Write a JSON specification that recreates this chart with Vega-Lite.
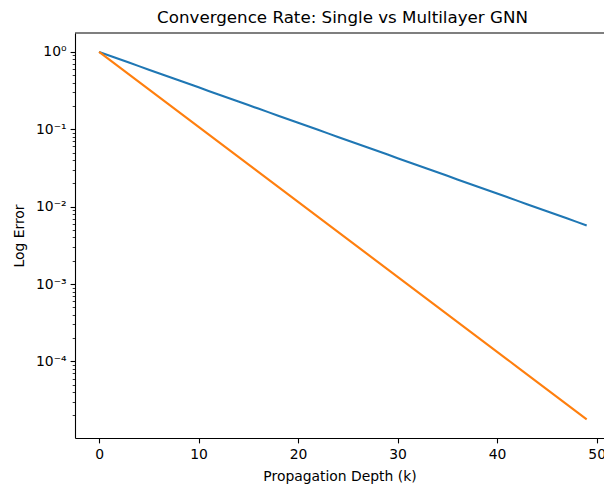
{
  "$schema": "https://vega.github.io/schema/vega-lite/v6.json",
  "width": 529,
  "height": 405,
  "autosize": {"type": "none"},
  "padding": {"left": 75, "top": 33, "right": 0, "bottom": 47},
  "background": "white",
  "config": {"view": {"stroke": null}, "font": "DejaVu Sans"},
  "title": {"text": "Convergence Rate: Single vs Multilayer GNN", "fontSize": 16.7, "fontWeight": "normal", "font": "DejaVu Sans", "color": "black", "offset": 6, "anchor": "middle", "dx": 3},
  "datasets": {
    "single": [
      {"k":0,"error":1},{"k":1,"error":0.9},{"k":2,"error":0.81},{"k":3,"error":0.729},{"k":4,"error":0.6561},{"k":5,"error":0.59049},{"k":6,"error":0.531441},{"k":7,"error":0.4782969},{"k":8,"error":0.43046721},{"k":9,"error":0.387420489},
      {"k":10,"error":0.3486784401},{"k":11,"error":0.3138105961},{"k":12,"error":0.2824295365},{"k":13,"error":0.2541865828},{"k":14,"error":0.2287679245},{"k":15,"error":0.2058911321},{"k":16,"error":0.1853020189},{"k":17,"error":0.166771817},{"k":18,"error":0.1500946353},{"k":19,"error":0.1350851718},
      {"k":20,"error":0.1215766546},{"k":21,"error":0.1094189891},{"k":22,"error":0.0984770902},{"k":23,"error":0.0886293812},{"k":24,"error":0.0797664431},{"k":25,"error":0.0717897988},{"k":26,"error":0.0646108189},{"k":27,"error":0.058149737},{"k":28,"error":0.0523347633},{"k":29,"error":0.047101287},
      {"k":30,"error":0.0423911583},{"k":31,"error":0.0381520424},{"k":32,"error":0.0343368382},{"k":33,"error":0.0309031544},{"k":34,"error":0.0278128389},{"k":35,"error":0.025031555},{"k":36,"error":0.0225283995},{"k":37,"error":0.0202755596},{"k":38,"error":0.0182480036},{"k":39,"error":0.0164232033},
      {"k":40,"error":0.0147808829},{"k":41,"error":0.0133027946},{"k":42,"error":0.0119725152},{"k":43,"error":0.0107752637},{"k":44,"error":0.0096977373},{"k":45,"error":0.0087279636},{"k":46,"error":0.0078551672},{"k":47,"error":0.0070696505},{"k":48,"error":0.0063626855},{"k":49,"error":0.0057264169}
    ],
    "multi": [
      {"k":0,"error":1},{"k":1,"error":0.8},{"k":2,"error":0.64},{"k":3,"error":0.512},{"k":4,"error":0.4096},{"k":5,"error":0.32768},{"k":6,"error":0.262144},{"k":7,"error":0.2097152},{"k":8,"error":0.16777216},{"k":9,"error":0.134217728},
      {"k":10,"error":0.1073741824},{"k":11,"error":0.0858993459},{"k":12,"error":0.0687194767},{"k":13,"error":0.0549755814},{"k":14,"error":0.0439804651},{"k":15,"error":0.0351843721},{"k":16,"error":0.0281474977},{"k":17,"error":0.0225179981},{"k":18,"error":0.0180143985},{"k":19,"error":0.0144115188},
      {"k":20,"error":0.011529215},{"k":21,"error":0.009223372},{"k":22,"error":0.0073786976},{"k":23,"error":0.0059029581},{"k":24,"error":0.0047223665},{"k":25,"error":0.0037778932},{"k":26,"error":0.0030223145},{"k":27,"error":0.0024178516},{"k":28,"error":0.0019342813},{"k":29,"error":0.001547425},
      {"k":30,"error":0.00123794},{"k":31,"error":0.000990352},{"k":32,"error":0.0007922816},{"k":33,"error":0.0006338253},{"k":34,"error":0.0005070602},{"k":35,"error":0.0004056482},{"k":36,"error":0.0003245186},{"k":37,"error":0.0002596148},{"k":38,"error":0.0002076919},{"k":39,"error":0.0001661535},
      {"k":40,"error":0.0001329228},{"k":41,"error":0.0001063382},{"k":42,"error":0.0000850706},{"k":43,"error":0.0000680565},{"k":44,"error":0.0000544452},{"k":45,"error":0.0000435561},{"k":46,"error":0.0000348449},{"k":47,"error":0.0000278759},{"k":48,"error":0.0000223007},{"k":49,"error":0.0000178406}
    ]
  },
  "layer": [
    {
      "data": {"name": "single"},
      "mark": {"type": "line", "color": "#1f77b4", "strokeWidth": 2.1, "clip": true},
      "encoding": {
        "x": {"field": "k", "type": "quantitative", "scale": {"domain": [-2.42, 50.74], "nice": false, "zero": false},
          "axis": {"values": [0,10,20,30,40,50], "title": "Propagation Depth (k)", "titleFontSize": 13.9, "titleFontWeight": "normal", "titleColor": "black", "labelFontSize": 13.9, "labelColor": "black", "tickSize": 4.9, "tickWidth": 1.1, "tickColor": "black", "domainColor": "black", "domainWidth": 1.1, "grid": false, "labelPadding": 5, "titlePadding": 8, "labelFlush": false}},
        "y": {"field": "error", "type": "quantitative", "scale": {"type": "log", "domain": [0.00001023, 1.758], "nice": false, "zero": false},
          "axis": {
            "values": [0.00002,0.00003,0.00004,0.00005,0.00006,0.00007,0.00008,0.00009,0.0001,0.0002,0.0003,0.0004,0.0005,0.0006,0.0007,0.0008,0.0009,0.001,0.002,0.003,0.004,0.005,0.006,0.007,0.008,0.009,0.01,0.02,0.03,0.04,0.05,0.06,0.07,0.08,0.09,0.1,0.2,0.3,0.4,0.5,0.6,0.7,0.8,0.9,1],
            "labelExpr": "abs(log(datum.value)/LN10 - round(log(datum.value)/LN10)) < 1e-6 ? (round(log(datum.value)/LN10) == 0 ? '10⁰' : '10⁻' + ['','¹','²','³','⁴','⁵'][-round(log(datum.value)/LN10)]) : ''",
            "tickSize": {"condition": {"test": "abs(log(datum.value)/LN10 - round(log(datum.value)/LN10)) < 1e-6", "value": 4.9}, "value": 2.8},
            "tickWidth": {"condition": {"test": "abs(log(datum.value)/LN10 - round(log(datum.value)/LN10)) < 1e-6", "value": 1.1}, "value": 0.8},
            "title": "Log Error", "titleFontSize": 13.9, "titleFontWeight": "normal", "titleColor": "black", "labelFontSize": 13.9, "labelColor": "black", "tickColor": "black", "domainColor": "black", "domainWidth": 1.1, "grid": false, "labelPadding": 4, "titlePadding": 9, "labelOverlap": false}}
      }
    },
    {
      "data": {"name": "multi"},
      "mark": {"type": "line", "color": "#ff7f0e", "strokeWidth": 2.1, "clip": true},
      "encoding": {
        "x": {"field": "k", "type": "quantitative"},
        "y": {"field": "error", "type": "quantitative"}
      }
    },
    {
      "data": {"values": [{}]},
      "mark": {"type": "rule", "color": "black", "strokeWidth": 1.1},
      "encoding": {"y": {"datum": 1.758, "type": "quantitative"}}
    }
  ]
}
